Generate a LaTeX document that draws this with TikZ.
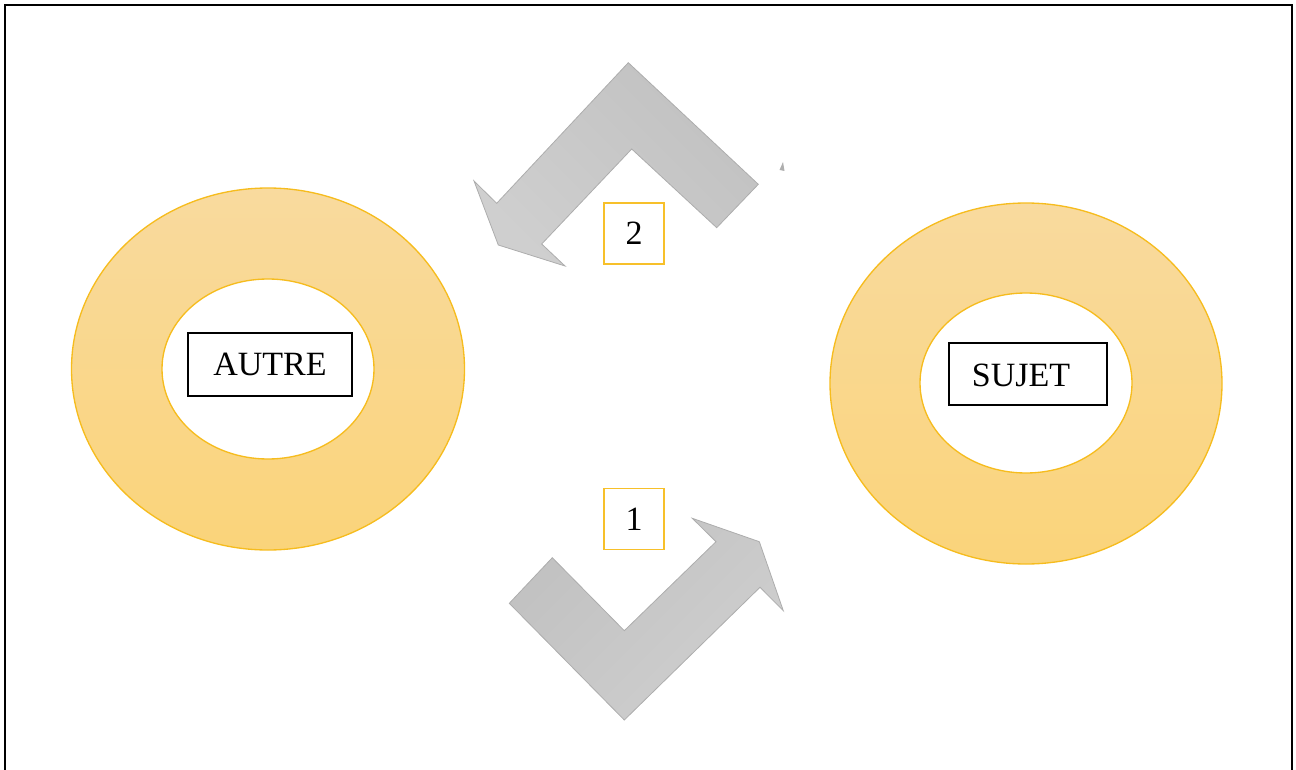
\documentclass[tikz,border=0pt]{standalone}
\usepackage{fontspec}
\setmainfont{Liberation Serif}
\definecolor{ringtop}{HTML}{F9DA9E}
\definecolor{ringbot}{HTML}{FAD47A}
\definecolor{ringedge}{HTML}{F6BC1E}
\definecolor{labeledge}{HTML}{F7C02A}
\definecolor{arrowdark}{HTML}{C1C1C1}
\definecolor{arrowlight}{HTML}{CFCFCF}
\definecolor{arrowedge}{HTML}{ADADAD}
\tikzset{
  ring/.style={top color=ringtop, bottom color=ringbot, even odd rule},
  ringline/.style={draw=ringedge, line width=1pt},
  namebox/.style={draw=black, line width=1pt, fill=white, inner sep=0pt, font=\fontsize{25.5}{30}\selectfont},
  numbox/.style={draw=labeledge, line width=1pt, fill=white, inner sep=0pt, minimum width=45pt, minimum height=45.75pt, font=\fontsize{25.5}{30}\selectfont},
  bentarrow/.style={draw=arrowedge, line width=0.6pt, line join=miter},
}
\begin{document}
\begin{tikzpicture}[x=0.75pt, y=-0.75pt]
\useasboundingbox (0,0) rectangle (1296,770);
% frame
\draw[line width=1.8pt] (5,790) -- (5,5) -- (1292,5) -- (1292,790);

% left ring
\shade[ring] (268,369) ellipse [x radius=196.5, y radius=181] (268,369) ellipse [x radius=106, y radius=90];
\draw[ringline] (268,369) ellipse [x radius=196.5, y radius=181];
\draw[ringline] (268,369) ellipse [x radius=106, y radius=90];

% right ring
\shade[ring] (1026,383.5) ellipse [x radius=196, y radius=180.5] (1026,383) ellipse [x radius=106, y radius=90];
\draw[ringline] (1026,383.5) ellipse [x radius=196, y radius=180.5];
\draw[ringline] (1026,383) ellipse [x radius=106, y radius=90];

% name boxes
\node[namebox, minimum width=123pt, minimum height=47.25pt] (autre) at (270,364.5) {AUTRE};
\node[namebox, minimum width=118.5pt, minimum height=46.5pt] (sujetbox) at (1028,374) {};
\node[font=\fontsize{25.5}{30}\selectfont, inner sep=0pt] (sujet) at (1021,375) {SUJET};

% arrow 2 (top)
\path[bentarrow, left color=arrowdark, right color=arrowlight, shading angle=-45]
  (628.3,62.7) -- (758.3,184.3) -- (716.7,227.7) -- (631.7,149) -- (541.7,244)
  -- (565,266) -- (498.3,245) -- (474,181) -- (496.7,203.3) -- cycle;
\fill[arrowdark!90!black] (783,162) -- (779.5,170) -- (784.5,171) -- cycle;

% arrow 1 (bottom)
\path[bentarrow, left color=arrowdark, right color=arrowlight, shading angle=45]
  (552.3,557.7) -- (624.3,630.7) -- (716,541.7) -- (692.3,518.3) -- (759.3,541.7)
  -- (783.3,610.7) -- (760,587.3) -- (624.3,720) -- (509.3,603.3) -- cycle;

% number boxes
\node[numbox] (n2) at (634,233.5) {2};
\node[numbox] (n1) at (634,519) {1};
\end{tikzpicture}
\end{document}
